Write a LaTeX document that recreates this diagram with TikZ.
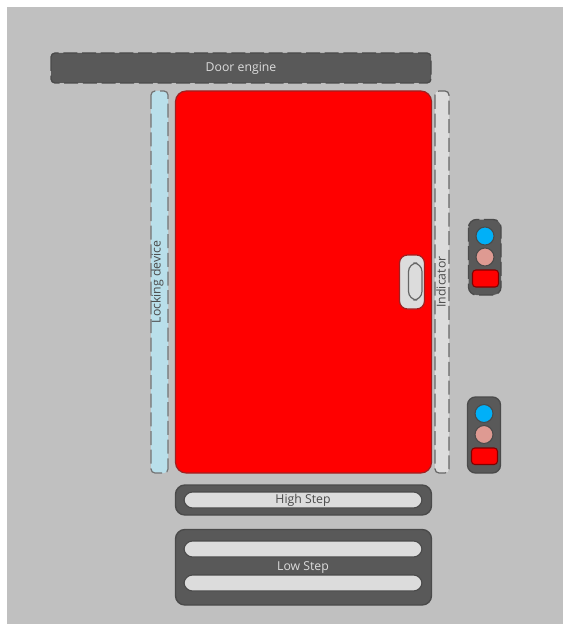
\documentclass[tikz,border=0pt]{standalone}
\usepackage{fontspec}
\setmainfont{Open Sans}
\definecolor{bgG}{HTML}{C0C0C0}
\definecolor{darkG}{HTML}{595959}
\definecolor{edgeG}{HTML}{4A4A4A}
\definecolor{lightG}{HTML}{DCDCDC}
\definecolor{lblue}{HTML}{B9DFEA}
\definecolor{dblue}{HTML}{00B0F8}
\definecolor{rose}{HTML}{DE9A92}
\definecolor{doorEdge}{HTML}{A02020}
\tikzset{x=0.75pt,y=-0.75pt,
 dashline/.style={dash pattern=on 10.5pt off 3.5pt},
 lab/.style={font=\fontsize{9.2pt}{10pt}\selectfont,text=#1},
 darkbox/.style={fill=darkG,draw=edgeG,line width=1pt},
 bar/.style={fill=lightG,draw=edgeG,line width=0.8pt,rounded corners=6.5pt},
 lamp/.style={draw=edgeG,line width=0.8pt}}
\begin{document}
\begin{tikzpicture}
\useasboundingbox (0,0) rectangle (563,624);
\fill[white] (0,0) rectangle (563,624);
\fill[bgG] (7,7) rectangle (563,624);
% door engine
\draw[darkbox,dashline,rounded corners=3pt] (51,53) rectangle (431,83);
\node[lab=lightG] (engine) at (241,68.5) {Door engine};
% locking device
\draw[fill=lblue,draw=gray!90!black,line width=0.9pt,dashline,rounded corners=3pt] (151,91) rectangle (168,473);
\node[lab=edgeG,rotate=90] (lock) at (157.5,282) {Locking device};
% door
\draw[fill=red,draw=doorEdge,line width=0.9pt,rounded corners=8pt] (175.5,91) rectangle (431.5,473);
% handle
\draw[fill=lightG,draw=doorEdge,line width=0.9pt,rounded corners=6pt] (399.5,255) rectangle (424.5,309);
\draw[fill=lightG,draw=gray!80!black,line width=0.9pt,rounded corners=6.5pt] (408.5,263) rectangle (422,300);
% indicator
\draw[fill=lightG,draw=gray!80!black,line width=0.9pt,dashline,rounded corners=3pt] (435,91) rectangle (449,473);
\node[lab=edgeG,rotate=90] (ind) at (441,282) {Indicator};
% top light
\draw[darkbox,dashline,rounded corners=6pt] (468.5,219.5) rectangle (501,295);
\draw[lamp,fill=dblue] (485,236) circle (9);
\draw[lamp,fill=rose] (485,257) circle (9);
\draw[fill=red,draw=black!50!red,line width=0.8pt,rounded corners=2.5pt] (472.5,270) rectangle (498.5,287);
% bottom light
\draw[darkbox,rounded corners=6pt] (467.5,397) rectangle (500.5,473);
\draw[lamp,fill=dblue] (484,413.5) circle (9);
\draw[lamp,fill=rose] (484,434.5) circle (9);
\draw[fill=red,draw=black!50!red,line width=0.8pt,rounded corners=2.5pt] (471.5,448) rectangle (497.5,464.5);
% high step
\draw[darkbox,rounded corners=7pt] (175.5,485) rectangle (431.5,515);
\draw[bar] (184,492) rectangle (422,508);
\node[lab=edgeG] (high) at (303,500.5) {High Step};
% low step
\draw[darkbox,rounded corners=7pt] (175.5,529.5) rectangle (431.5,605);
\draw[bar] (184,541) rectangle (422,557);
\draw[bar] (184,575) rectangle (422,591);
\node[lab=lightG] (low) at (303,567.5) {Low Step};
\end{tikzpicture}
\end{document}
